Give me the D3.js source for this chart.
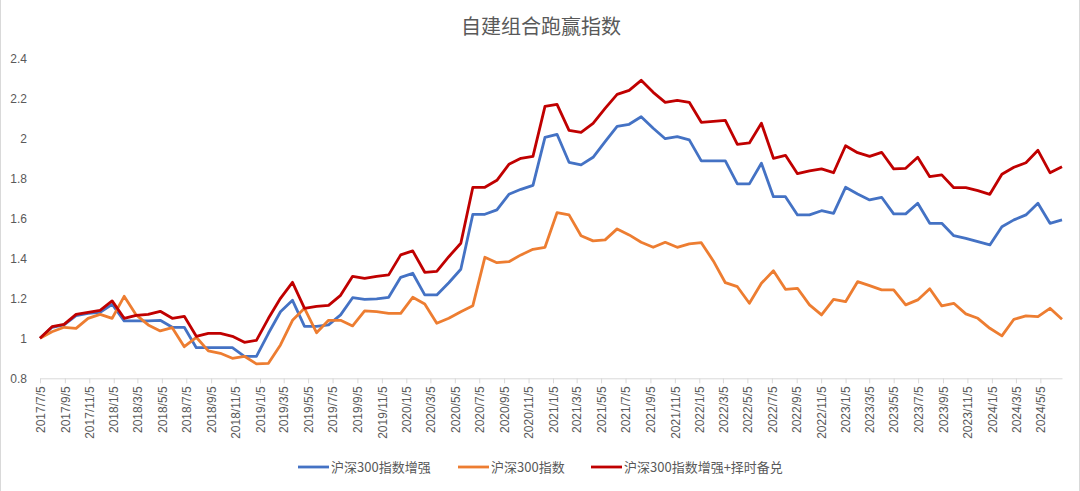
<!DOCTYPE html>
<meta charset="utf-8">
<style>
body { margin: 0; background: #fff; }
svg { display: block; font-family: "Noto Sans CJK SC", "Noto Sans", sans-serif; }
.line { fill: none; stroke-width: 2.8px; stroke-linejoin: round; }
.axis text { fill: #595959; font-size: 12px; }
.title { fill: #595959; font-size: 20px; }
.legend text { fill: #595959; font-size: 13px; }
</style>
<svg width="1080" height="491"></svg>
<script src="https://d3js.org/d3.v7.min.js"></script>
<script>
// one point roughly every 30 days
var dates = [
  "2017-07-05","2017-08-04","2017-09-03","2017-10-03","2017-11-02","2017-12-02",
  "2018-01-01","2018-01-31","2018-03-02","2018-04-01","2018-05-01","2018-05-31",
  "2018-06-30","2018-07-30","2018-08-29","2018-09-28","2018-10-28","2018-11-27",
  "2018-12-27","2019-01-26","2019-02-25","2019-03-27","2019-04-26","2019-05-26",
  "2019-06-25","2019-07-25","2019-08-24","2019-09-23","2019-10-23","2019-11-22",
  "2019-12-22","2020-01-21","2020-02-20","2020-03-21","2020-04-20","2020-05-20",
  "2020-06-19","2020-07-19","2020-08-18","2020-09-17","2020-10-17","2020-11-16",
  "2020-12-16","2021-01-15","2021-02-14","2021-03-16","2021-04-15","2021-05-15",
  "2021-06-14","2021-07-14","2021-08-13","2021-09-12","2021-10-12","2021-11-11",
  "2021-12-11","2022-01-10","2022-02-09","2022-03-11","2022-04-10","2022-05-10",
  "2022-06-09","2022-07-09","2022-08-08","2022-09-07","2022-10-07","2022-11-06",
  "2022-12-06","2023-01-05","2023-02-04","2023-03-06","2023-04-05","2023-05-05",
  "2023-06-04","2023-07-04","2023-08-03","2023-09-02","2023-10-02","2023-11-01",
  "2023-12-01","2023-12-31","2024-01-30","2024-02-29","2024-03-30","2024-04-29",
  "2024-05-29","2024-06-28"
];

var enhanced = [
  1.00,1.055,1.067,1.113,1.125,1.13,1.17,1.087,1.087,1.087,1.09,1.055,
  1.055,0.953,0.953,0.953,0.953,0.91,0.91,1.025,1.133,1.19,1.06,1.06,
  1.067,1.117,1.203,1.195,1.197,1.205,1.305,1.325,1.217,1.217,1.278,1.345,
  1.62,1.62,1.642,1.72,1.745,1.765,2.005,2.02,1.88,1.867,1.905,1.983,
  2.06,2.07,2.108,2.05,1.998,2.008,1.992,1.887,1.887,1.887,1.772,1.772,
  1.875,1.708,1.708,1.617,1.617,1.638,1.625,1.755,1.722,1.692,1.705,1.622,
  1.622,1.675,1.575,1.575,1.513,1.50,1.483,1.467,1.558,1.592,1.617,1.675,
  1.575,1.592
];

var hs300 = [
  1.00,1.033,1.055,1.05,1.10,1.12,1.10,1.21,1.117,1.067,1.037,1.053,
  0.958,1.005,0.937,0.925,0.90,0.91,0.872,0.875,0.967,1.09,1.15,1.028,
  1.09,1.09,1.062,1.137,1.133,1.125,1.125,1.205,1.172,1.075,1.10,1.133,
  1.163,1.405,1.378,1.383,1.417,1.445,1.455,1.628,1.617,1.513,1.487,1.492,
  1.547,1.517,1.48,1.455,1.48,1.455,1.472,1.478,1.387,1.278,1.258,1.175,
  1.275,1.338,1.245,1.25,1.167,1.117,1.195,1.183,1.283,1.263,1.242,1.242,
  1.167,1.192,1.248,1.162,1.175,1.122,1.10,1.05,1.012,1.095,1.112,1.108,
  1.15,1.095
];

var timing = [
  1.00,1.058,1.07,1.12,1.13,1.14,1.187,1.10,1.115,1.12,1.135,1.10,
  1.11,1.01,1.025,1.025,1.01,0.98,0.99,1.10,1.20,1.28,1.15,1.16,
  1.165,1.215,1.31,1.30,1.31,1.317,1.417,1.437,1.33,1.335,1.408,1.475,
  1.755,1.755,1.79,1.87,1.90,1.91,2.16,2.17,2.04,2.03,2.075,2.15,
  2.22,2.24,2.29,2.23,2.18,2.19,2.18,2.08,2.085,2.09,1.97,1.977,
  2.075,1.90,1.915,1.823,1.837,1.847,1.828,1.963,1.928,1.91,1.93,1.847,
  1.85,1.905,1.808,1.817,1.753,1.753,1.738,1.72,1.82,1.855,1.878,1.94,
  1.828,1.858
];

var xTickLabels = [
  "2017/7/5","2017/9/5","2017/11/5","2018/1/5","2018/3/5","2018/5/5","2018/7/5",
  "2018/9/5","2018/11/5","2019/1/5","2019/3/5","2019/5/5","2019/7/5","2019/9/5",
  "2019/11/5","2020/1/5","2020/3/5","2020/5/5","2020/7/5","2020/9/5","2020/11/5",
  "2021/1/5","2021/3/5","2021/5/5","2021/7/5","2021/9/5","2021/11/5","2022/1/5",
  "2022/3/5","2022/5/5","2022/7/5","2022/9/5","2022/11/5","2023/1/5","2023/3/5",
  "2023/5/5","2023/7/5","2023/9/5","2023/11/5","2024/1/5","2024/3/5","2024/5/5"
];

var yTicks = [0.8, 1, 1.2, 1.4, 1.6, 1.8, 2, 2.2, 2.4];

var seriesNames = ["沪深300指数增强", "沪深300指数", "沪深300指数增强+择时备兑"];
var seriesColors = ["#4472C4", "#ED7D31", "#C00000"];
var seriesValues = [enhanced, hs300, timing];

var svg = d3.select("svg");
var parseDate = d3.timeParse("%Y-%m-%d");
var parseTick = d3.timeParse("%Y/%m/%d");
var dateObjs = dates.map(parseDate);

var x = d3.scaleTime()
    .domain([dateObjs[0], dateObjs[dateObjs.length - 1]])
    .range([40, 1062]);

var y = d3.scaleLinear()
    .domain([0.8, 2.4])
    .range([378.3, 58.3]);

// side edges of the chart frame
svg.append("line")
    .attr("x1", 0.5).attr("x2", 0.5).attr("y1", 0).attr("y2", 491)
    .attr("stroke", "#d9d9d9");
svg.append("line")
    .attr("x1", 1079.5).attr("x2", 1079.5).attr("y1", 0).attr("y2", 491)
    .attr("stroke", "#d9d9d9");

svg.append("text")
    .attr("class", "title")
    .attr("x", 541).attr("y", 34)
    .attr("text-anchor", "middle")
    .text("自建组合跑赢指数");

// y axis: labels only
var yAxis = d3.axisLeft(y)
    .tickValues(yTicks)
    .tickSize(0)
    .tickPadding(0)
    .tickFormat(function(d) { return String(+d.toFixed(1)); });

svg.append("g")
    .attr("class", "axis axis--y")
    .attr("transform", "translate(27,0)")
    .call(yAxis)
    .call(function(g) { g.select(".domain").remove(); });

// x axis
var xAxis = d3.axisBottom(x)
    .tickValues(xTickLabels.map(parseTick))
    .tickSizeInner(5)
    .tickSizeOuter(0)
    .tickFormat(function(d, i) { return xTickLabels[i]; });

var gx = svg.append("g")
    .attr("class", "axis axis--x")
    .attr("transform", "translate(0," + y(0.8) + ")")
    .call(xAxis);

gx.select(".domain").attr("stroke", "#d9d9d9").attr("stroke-width", 1);
gx.selectAll(".tick line").attr("stroke", "#d9d9d9");
gx.selectAll(".tick text")
    .attr("transform", "rotate(-90)")
    .attr("text-anchor", "end")
    .attr("x", -8)
    .attr("y", 0)
    .attr("dy", "0.35em");

// lines
var line = d3.line()
    .x(function(d, i) { return x(dateObjs[i]); })
    .y(function(d) { return y(d); });

seriesValues.forEach(function(vals, k) {
  svg.append("path")
      .datum(vals)
      .attr("class", "line")
      .attr("stroke", seriesColors[k])
      .attr("d", line);
});

// legend
var legendX = [298, 458, 591];
var legend = svg.append("g").attr("class", "legend");
seriesNames.forEach(function(name, k) {
  var g = legend.append("g").attr("transform", "translate(" + legendX[k] + ",467)");
  g.append("line")
      .attr("x1", 0).attr("x2", 31)
      .attr("stroke", seriesColors[k])
      .attr("stroke-width", 2.8);
  g.append("text")
      .attr("x", 33)
      .attr("dy", "0.35em")
      .text(name);
});
</script>
